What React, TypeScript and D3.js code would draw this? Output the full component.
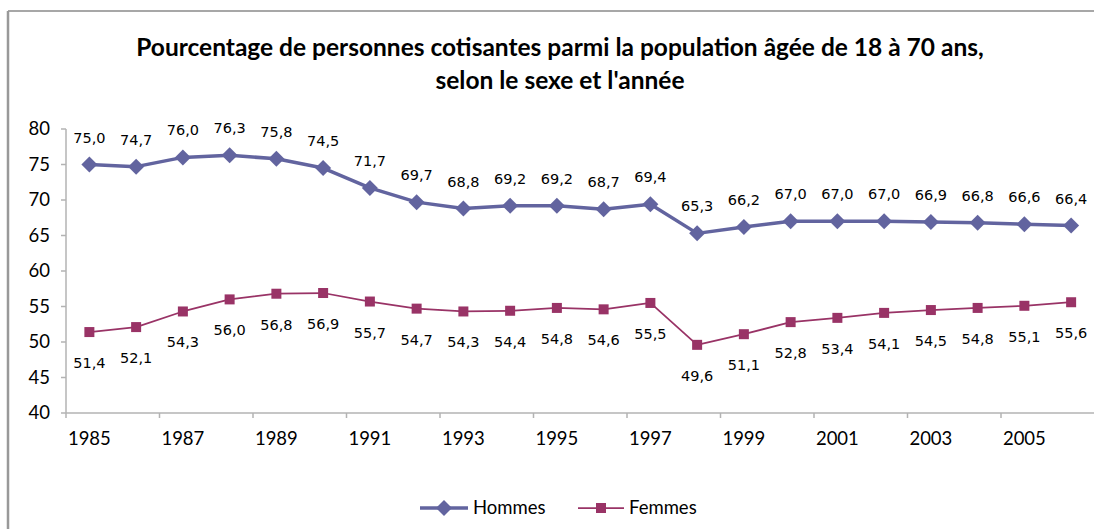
import * as d3 from "d3";
import { useMemo } from "react";

const years = d3.range(1985, 2007).map(String);
const hommes = [75.0, 74.7, 76.0, 76.3, 75.8, 74.5, 71.7, 69.7, 68.8, 69.2, 69.2, 68.7, 69.4, 65.3, 66.2, 67.0, 67.0, 67.0, 66.9, 66.8, 66.6, 66.4];
const femmes = [51.4, 52.1, 54.3, 56.0, 56.8, 56.9, 55.7, 54.7, 54.3, 54.4, 54.8, 54.6, 55.5, 49.6, 51.1, 52.8, 53.4, 54.1, 54.5, 54.8, 55.1, 55.6];
const yTicks = [40, 45, 50, 55, 60, 65, 70, 75, 80];

const HOMMES_COLOR = "#62649f";
const FEMMES_COLOR = "#993366";
const AXIS_COLOR = "#b3b3b3";

const fmt = (v: number) => v.toFixed(1).replace(".", ",");

export default function App() {
  const width = 1094;
  const height = 529;
  const left = 66;
  const right = 66 + 22 * 46.75;
  const top = 129;
  const bottom = 413;

  const x = useMemo(() => d3.scaleBand().domain(years).range([left, right]), []);
  const y = useMemo(() => d3.scaleLinear().domain([40, 80]).range([bottom, top]), []);
  const cx = (yr: string) => (x(yr) as number) + x.bandwidth() / 2;

  const lineH = d3.line<number>().x((_, i) => cx(years[i])).y((d) => y(d));

  const diamond = (px: number, py: number, r: number) =>
    `M${px},${py - r}L${px + r},${py}L${px},${py + r}L${px - r},${py}Z`;

  const labelFont = "'DejaVu Sans', sans-serif";
  const axisFont = "Lato, 'Open Sans', sans-serif";

  return (
    <div style={{ position: "fixed", left: 0, top: 0 }}>
      <svg width={width} height={height} viewBox={`0 0 ${width} ${height}`}>
        <rect x={0} y={0} width={width} height={height} fill="#fff" />
        {/* frame */}
        <line x1={8} y1={11} x2={width} y2={11} stroke="#8a8a8a" strokeWidth={1.5} />
        <line x1={8} y1={11} x2={8} y2={height} stroke="#999" strokeWidth={2.5} />

        {/* title */}
        <text x={560} y={56} textAnchor="middle" fontFamily={axisFont} fontWeight={700} fontSize={24.5} fill="#000">
          Pourcentage de personnes cotisantes parmi la population âgée de 18 à 70 ans,
        </text>
        <text x={560} y={89} textAnchor="middle" fontFamily={axisFont} fontWeight={700} fontSize={24.5} fill="#000">
          selon le sexe et l'année
        </text>

        {/* y axis */}
        <line x1={left} y1={top} x2={left} y2={bottom} stroke={AXIS_COLOR} strokeWidth={1.5} />
        {yTicks.map((t) => (
          <g key={t}>
            <line x1={left - 5} x2={left} y1={y(t)} y2={y(t)} stroke={AXIS_COLOR} strokeWidth={1.5} />
            <text x={50} y={y(t)} dy="0.35em" textAnchor="end" fontFamily={axisFont} fontSize={18.5} fill="#000">
              {t}
            </text>
          </g>
        ))}

        {/* x axis */}
        <line x1={left} y1={bottom} x2={right} y2={bottom} stroke={AXIS_COLOR} strokeWidth={1.5} />
        {years.map((yr, i) =>
          i % 2 === 0 ? (
            <g key={yr}>
              <line x1={x(yr) as number} x2={x(yr) as number} y1={bottom} y2={bottom + 5} stroke={AXIS_COLOR} strokeWidth={1.5} />
              <text x={cx(yr)} y={bottom + 32} textAnchor="middle" fontFamily={axisFont} fontSize={18.5} fill="#000">
                {yr}
              </text>
            </g>
          ) : null
        )}

        {/* Hommes */}
        <path d={lineH(hommes) ?? ""} fill="none" stroke={HOMMES_COLOR} strokeWidth={3.5} strokeLinejoin="round" />
        {hommes.map((v, i) => (
          <g key={`h${i}`}>
            <path d={diamond(cx(years[i]), y(v), 8)} fill={HOMMES_COLOR} />
            <text x={cx(years[i])} y={y(v) - 22} textAnchor="middle" fontFamily={labelFont} fontSize={14.5} fill="#000">
              {fmt(v)}
            </text>
          </g>
        ))}

        {/* Femmes */}
        <path d={lineH(femmes) ?? ""} fill="none" stroke={FEMMES_COLOR} strokeWidth={1.75} strokeLinejoin="round" />
        {femmes.map((v, i) => (
          <g key={`f${i}`}>
            <rect x={cx(years[i]) - 5} y={y(v) - 5} width={10} height={10} fill={FEMMES_COLOR} />
            <text x={cx(years[i])} y={y(v) + 36} textAnchor="middle" fontFamily={labelFont} fontSize={14.5} fill="#000">
              {fmt(v)}
            </text>
          </g>
        ))}

        {/* legend */}
        <line x1={420} x2={468} y1={508} y2={508} stroke={HOMMES_COLOR} strokeWidth={3.5} />
        <path d={diamond(444, 508, 8)} fill={HOMMES_COLOR} />
        <text x={473} y={508} dy="0.35em" fontFamily={axisFont} fontSize={18.5} fill="#000">Hommes</text>
        <line x1={578} x2={624} y1={508} y2={508} stroke={FEMMES_COLOR} strokeWidth={1.75} />
        <rect x={596} y={503} width={10} height={10} fill={FEMMES_COLOR} />
        <text x={629} y={508} dy="0.35em" fontFamily={axisFont} fontSize={18.5} fill="#000">Femmes</text>
      </svg>
    </div>
  );
}
